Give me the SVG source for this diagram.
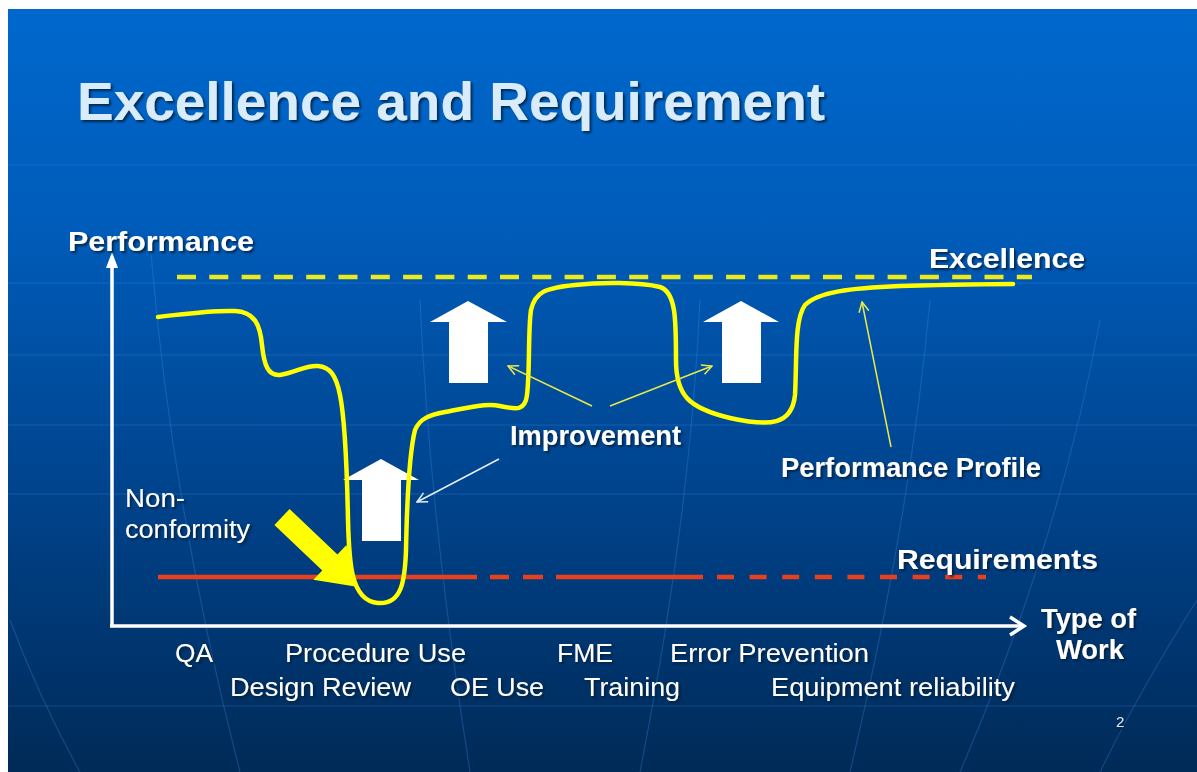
<svg xmlns="http://www.w3.org/2000/svg" width="1197" height="772" viewBox="0 0 1197 772">
<defs>
<linearGradient id="bg" x1="0" y1="0" x2="0" y2="1">
<stop offset="0" stop-color="#0068cd"/>
<stop offset="0.3" stop-color="#005bb8"/>
<stop offset="0.65" stop-color="#00428a"/>
<stop offset="1" stop-color="#002a57"/>
</linearGradient>
<filter id="sh" x="-5%" y="-20%" width="110%" height="140%">
<feDropShadow dx="2" dy="2" stdDeviation="0.8" flood-color="#001a3a" flood-opacity="0.85"/>
</filter>
<marker id="openY" viewBox="0 0 12 12" refX="11" refY="6" markerWidth="12" markerHeight="12" markerUnits="userSpaceOnUse" orient="auto">
<path d="M1,1 L11,6 L1,11" fill="none" stroke="#e8e84a" stroke-width="1.5"/>
</marker>
<marker id="openW" viewBox="0 0 12 12" refX="11" refY="6" markerWidth="12" markerHeight="12" markerUnits="userSpaceOnUse" orient="auto">
<path d="M1,1 L11,6 L1,11" fill="none" stroke="#e6eef8" stroke-width="1.5"/>
</marker>
<style>
.t{font-family:"Liberation Sans",Arial,sans-serif;fill:#ffffff;filter:url(#sh)}
.b{font-weight:bold}
.lbl{font-size:26px}
.bl{font-size:27px;font-weight:bold}
.grid{stroke:#3d8fe0;stroke-opacity:0.3;stroke-width:1.2;fill:none}
.ptr{fill:none;stroke-width:1.5}
.blk{fill:#ffffff}
</style>
</defs>
<rect x="0" y="0" width="1197" height="772" fill="#ffffff"/>
<rect x="8" y="9" width="1189" height="763" fill="url(#bg)"/>
<g id="grid">
<path class="grid" d="M8,165 H1197 M8,283 H1197 M8,355 H1197 M8,425 H1197 M8,494 H1197 M8,706 H1197"/>
<path class="grid" d="M150,240 Q170,500 240,772 M420,300 Q430,520 470,772 M700,300 Q690,520 640,772 M930,300 Q910,520 850,772 M1100,320 Q1060,540 960,772 M10,620 Q40,700 80,772 M1197,600 Q1140,690 1100,772"/>
</g>
<text id="title" class="t b" x="77" y="120" font-size="54" textLength="748" lengthAdjust="spacingAndGlyphs" style="fill:#d8ecfb">Excellence and Requirement</text>
<g id="axes">
<line x1="112" y1="627" x2="112" y2="266" stroke="#ffffff" stroke-width="3.5"/>
<path d="M106,268 L112,252 L118,268 Z" fill="#ffffff"/>
<line x1="110" y1="626" x2="1022" y2="626" stroke="#ffffff" stroke-width="3.5"/>
<path d="M1010,617 L1024,626 L1010,635" fill="none" stroke="#ffffff" stroke-width="3.5"/>
</g>
<g id="excellence-line">
<line x1="177" y1="277" x2="1032" y2="277" stroke="#eaea1e" stroke-width="4.5" stroke-dasharray="19 13.3"/>
</g>
<g id="requirements-line" stroke="#e8401c" stroke-width="4.5">
<line x1="158" y1="577" x2="477" y2="577"/>
<line x1="490" y1="577" x2="509" y2="577"/>
<line x1="523" y1="577" x2="543" y2="577"/>
<line x1="556" y1="577" x2="703" y2="577"/>
<line x1="717" y1="577" x2="986" y2="577" stroke-dasharray="17 15.6"/>
</g>
<g id="block-arrows">
<path class="blk" d="M468,301 L507,322 L488,322 L488,383 L449,383 L449,322 L430,322 Z"/>
<path class="blk" d="M741,301 L779,322 L761,322 L761,383 L722,383 L722,322 L703,322 Z"/>
<path class="blk" d="M381,459 L419,480 L401,480 L401,541 L362,541 L362,480 L343,480 Z"/>
</g>
<g id="performance-profile">
<path d="M158,317 C185,314 210,310 235,311 C255,312 260,325 262,345 C264,365 268,376 280,375 C295,373 305,365 318,366 C330,367 336,375 340,395 C345,420 347,470 348,520 C349,560 350,601 378,603 C402,605 405,580 406,550 C407,500 410,450 415,430 C420,418 430,415 445,412 C465,408 485,403 500,406 C515,409 525,412 527,395 C530,370 528,330 531,310 C535,292 545,288 575,285 C600,282 640,282 660,287 C676,292 676,320 676,360 C676,395 688,408 730,418 C770,427 792,425 795,395 C797,360 794,320 805,305 C818,292 850,288 900,286 C940,285 980,284 1013,284" fill="none" stroke="#ffff00" stroke-width="4.5" stroke-linecap="round"/>
</g>
<g id="nonconformity-arrow">
<path d="M0,-11 L66,-11 L66,-24 L101,0 L66,24 L66,11 L0,11 Z" fill="#ffff00" transform="translate(282,517) rotate(43.5)"/>
</g>
<g id="connectors">
<line class="ptr" x1="592" y1="406" x2="508" y2="366" stroke="#e8e84a" marker-end="url(#openY)"/>
<line class="ptr" x1="610" y1="406" x2="712" y2="366" stroke="#e8e84a" marker-end="url(#openY)"/>
<line class="ptr" x1="891" y1="447" x2="862" y2="302" stroke="#e8e84a" marker-end="url(#openY)"/>
<line class="ptr" x1="499" y1="459" x2="417" y2="502" stroke="#e6eef8" marker-end="url(#openW)"/>
</g>
<g id="labels">
<text class="t bl" x="68" y="251" textLength="186" lengthAdjust="spacingAndGlyphs">Performance</text>
<text class="t bl" x="929" y="268" textLength="156" lengthAdjust="spacingAndGlyphs">Excellence</text>
<text class="t bl" x="510" y="445" textLength="171" lengthAdjust="spacingAndGlyphs">Improvement</text>
<text class="t bl" x="781" y="477" textLength="260" lengthAdjust="spacingAndGlyphs">Performance Profile</text>
<text class="t bl" x="897" y="569" textLength="201" lengthAdjust="spacingAndGlyphs">Requirements</text>
<text class="t bl" x="1041" y="628" textLength="95" lengthAdjust="spacingAndGlyphs">Type of</text>
<text class="t bl" x="1056" y="659" textLength="68" lengthAdjust="spacingAndGlyphs">Work</text>
<text class="t lbl" x="125" y="507" textLength="60" lengthAdjust="spacingAndGlyphs">Non-</text>
<text class="t lbl" x="125" y="538" textLength="125" lengthAdjust="spacingAndGlyphs">conformity</text>
<text class="t lbl" x="175" y="662" textLength="38" lengthAdjust="spacingAndGlyphs">QA</text>
<text class="t lbl" x="285" y="662" textLength="181" lengthAdjust="spacingAndGlyphs">Procedure Use</text>
<text class="t lbl" x="557" y="662" textLength="56" lengthAdjust="spacingAndGlyphs">FME</text>
<text class="t lbl" x="670" y="662" textLength="199" lengthAdjust="spacingAndGlyphs">Error Prevention</text>
<text class="t lbl" x="230" y="696" textLength="181" lengthAdjust="spacingAndGlyphs">Design Review</text>
<text class="t lbl" x="450" y="696" textLength="94" lengthAdjust="spacingAndGlyphs">OE Use</text>
<text class="t lbl" x="584" y="696" textLength="96" lengthAdjust="spacingAndGlyphs">Training</text>
<text class="t lbl" x="771" y="696" textLength="244" lengthAdjust="spacingAndGlyphs">Equipment reliability</text>
<text class="t" x="1116" y="727" font-size="15" style="fill:#dde8f5">2</text>
</g>
</svg>
